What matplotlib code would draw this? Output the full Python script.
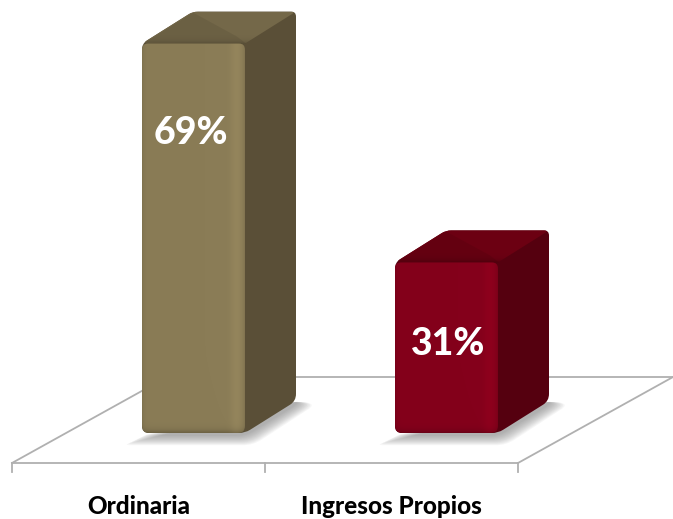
import matplotlib
matplotlib.use('Agg')
import matplotlib.pyplot as plt
import numpy as np
from matplotlib.path import Path
from matplotlib.patches import PathPatch
from matplotlib.colors import to_rgb

plt.rcParams['font.family'] = ['Lato', 'DejaVu Sans']

categories = ["Ordinaria", "Ingresos Propios"]
values = [69, 31]
labels = ["69%", "31%"]
label_drop = [89, 82]
label_shift = [-3, 1.5]
front_colors = ["#8a7c56", "#84001b"]
side_colors = ["#5a4f37", "#55000f"]
top_colors = ["#75694a", "#6d0013"]

# one category = 253 px, one percent = 5.76 px
PX = 1 / 253
PY = 1 / 5.76
bar_w = 103 * PX
depth_x = 51 * PX
depth_y = 32 * PY
base = 8 * PY
floor_y = -22 * PY
floor_dx = -55 * PX
floor_depth = 86 * PY
floor_skew = 155 * PX

fig = plt.figure(figsize=(6.73, 5.19), dpi=100)
ax = fig.add_axes([0, 0, 1, 1])
ax.set_xlim(-193.5 * PX, 479.5 * PX)
ax.set_ylim(-78 * PY, 441 * PY)
ax.axis('off')


def rounded(points, radii):
    # polygon with soft corners, radii are in pixels
    pts = np.array(points, dtype=float)
    verts, codes = [], []
    n = len(pts)
    for i in range(n):
        p, a, b = pts[i], pts[i - 1], pts[(i + 1) % n]
        da = (a - p) / (PX, PY)
        db = (b - p) / (PX, PY)
        ra = min(radii[i], np.hypot(*da) / 2)
        rb = min(radii[i], np.hypot(*db) / 2)
        p1 = p + da / np.hypot(*da) * ra * (PX, PY)
        p2 = p + db / np.hypot(*db) * rb * (PX, PY)
        verts += [p1, p, p2]
        codes += [Path.LINETO, Path.CURVE3, Path.CURVE3]
    codes[0] = Path.MOVETO
    verts.append(verts[0])
    codes.append(Path.CLOSEPOLY)
    return Path(verts, codes)


def shaded(path, color, extent, light=0.0, edge=0.0, zorder=3):
    # fill a face with a soft gradient, clipped to its outline
    x0, x1, y0, y1 = extent
    u = np.linspace(0, 1, 160)
    v = np.linspace(0, 1, 300)
    uu, vv = np.meshgrid(u, v)
    shade = 1 + light * np.exp(-((uu - 0.92) / 0.06) ** 2)
    shade = shade - edge * np.exp(-uu / 0.02) - edge * np.exp(-(1 - uu) / 0.015)
    px_h = (y1 - y0) / PY
    shade = shade - 0.2 * np.exp(-vv * px_h / 3)
    img = np.clip(np.array(to_rgb(color))[None, None, :] * shade[:, :, None], 0, 1)
    im = ax.imshow(img, extent=extent, origin='lower', aspect='auto', zorder=zorder,
                   interpolation='bilinear')
    patch = PathPatch(path, transform=ax.transData, fc='none', ec='none')
    ax.add_patch(patch)
    im.set_clip_path(patch)


# suelo
floor_col = '#b0b0b0'
x_left = floor_dx - 0.5
x_right = floor_dx + 1.5
ax.plot([x_left, x_right], [floor_y, floor_y], color=floor_col, lw=1.3, zorder=1)
ax.plot([x_left, x_left + floor_skew], [floor_y, floor_y + floor_depth], color=floor_col, lw=1.3, zorder=1)
ax.plot([x_right, x_right + floor_skew], [floor_y, floor_y + floor_depth], color=floor_col, lw=1.3, zorder=1)
ax.plot([x_left + floor_skew, x_right + floor_skew], [floor_y + floor_depth] * 2, color=floor_col, lw=1.3, zorder=1)
for t in range(3):
    ax.plot([x_left + t, x_left + t], [floor_y, floor_y - 9 * PY], color=floor_col, lw=1.3, zorder=1)

# barras
for i, (val, lab) in enumerate(zip(values, labels)):
    left = i - bar_w / 2
    right = i + bar_w / 2
    top = val

    # sombra
    for k in range(12):
        g = (12 - k) * 1.7
        shadow = rounded([(left - g * PX, base - 2 * PY - g * 0.5 * PY),
                          (right + g * 0.4 * PX, base - 2 * PY - g * 0.5 * PY),
                          (right + depth_x + g * PX, base + depth_y - 3 * PY),
                          (right + depth_x, base + depth_y)], [10, 10, 10, 10])
        ax.add_patch(PathPatch(shadow, fc='#808080', ec='none', alpha=0.07, zorder=2))

    # silueta, para que no queden huecos entre caras
    outline = rounded([(left, base), (right, base), (right + depth_x, base + depth_y),
                       (right + depth_x, top + depth_y), (left + depth_x, top + depth_y), (left, top)],
                      [7, 6, 7, 5, 5, 6])
    ax.add_patch(PathPatch(outline, fc=side_colors[i], ec='none', zorder=3))

    roof = rounded([(left, top), (left + depth_x, top + depth_y),
                    (right + depth_x, top + depth_y), (right, top)], [6, 5, 5, 0])
    shaded(roof, top_colors[i], (left, right + depth_x, top, top + depth_y), zorder=4)
    ax.fill([left + 3 * PX, left + depth_x, right - 8 * PX, right + 1 * PX],
            [top + 1 * PY, top + depth_y - 1 * PY, top + 7 * PY, top],
            color='#000000', alpha=0.07, lw=0, zorder=4)

    front = rounded([(left, base), (right, base), (right, top), (left, top)], [7, 7, 6, 6])
    shaded(front, front_colors[i], (left, right, base, top), light=0.07, edge=0.08, zorder=5)

    ax.text(i + label_shift[i] * PX, val - label_drop[i] * PY, lab, color='white', fontsize=27,
            fontweight=900, ha='center', va='center', zorder=6)

for i, cat in enumerate(categories):
    ax.text(i + floor_dx, -65 * PY, cat, fontsize=17.5, fontweight=900,
            ha='center', va='center', color='black')

fig.savefig("out.png", dpi=100)
